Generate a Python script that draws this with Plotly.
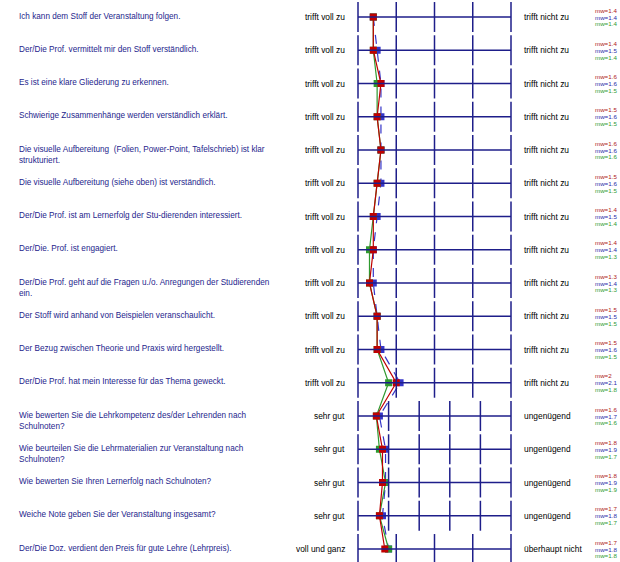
import plotly.graph_objects as go

questions = [
    "Ich kann dem Stoff der Veranstaltung folgen.",
    "Der/Die Prof. vermittelt mir den Stoff verständlich.",
    "Es ist eine klare Gliederung zu erkennen.",
    "Schwierige Zusammenhänge werden verständlich erklärt.",
    "Die visuelle Aufbereitung  (Folien, Power-Point, Tafelschrieb) ist klar<br>strukturiert.",
    "Die visuelle Aufbereitung (siehe oben) ist verständlich.",
    "Der/Die Prof. ist am Lernerfolg der Stu-dierenden interessiert.",
    "Der/Die. Prof. ist engagiert.",
    "Der/Die Prof. geht auf die Fragen u./o. Anregungen der Studierenden<br>ein.",
    "Der Stoff wird anhand von Beispielen veranschaulicht.",
    "Der Bezug zwischen Theorie und Praxis wird hergestellt.",
    "Der/Die Prof. hat mein Interesse für das Thema geweckt.",
    "Wie bewerten Sie die Lehrkompetenz des/der Lehrenden nach<br>Schulnoten?",
    "Wie beurteilen Sie die Lehrmaterialien zur Veranstaltung nach<br>Schulnoten?",
    "Wie bewerten Sie Ihren Lernerfolg nach Schulnoten?",
    "Weiche Note geben Sie der Veranstaltung insgesamt?",
    "Der/Die Doz. verdient den Preis für gute Lehre (Lehrpreis).",
]
left_labels = ["trifft voll zu"] * 12 + ["sehr gut"] * 4 + ["voll und ganz"]
right_labels = ["trifft nicht zu"] * 12 + ["ungenügend"] * 4 + ["überhaupt nicht"]
scale_points = [5] * 12 + [6] * 4 + [5]

mw_red = [1.4, 1.4, 1.6, 1.5, 1.6, 1.5, 1.4, 1.4, 1.3, 1.5, 1.5, 2.0, 1.6, 1.8, 1.8, 1.7, 1.7]
mw_blue = [1.4, 1.5, 1.6, 1.6, 1.6, 1.6, 1.5, 1.4, 1.4, 1.5, 1.6, 2.1, 1.7, 1.9, 1.9, 1.8, 1.8]
mw_green = [1.4, 1.4, 1.5, 1.5, 1.6, 1.5, 1.4, 1.3, 1.3, 1.5, 1.5, 1.8, 1.6, 1.7, 1.9, 1.7, 1.8]

W, H = 620, 562
GRID_L, GRID_R = 358, 511          # pixel span of the rating grid
ROW0, ROW_H = 17, 33.25            # first row centre / row pitch (px)
NAVY = "#1e1e8a"
FONT = "Liberation Sans, Arial, sans-serif"
RED, BLUE, GREEN = "#c00000", "#3535c8", "#2f9a2f"

n = len(questions)
rows = list(range(n))

def norm(v, k):
    return (v - 1) / (k - 1)

unit = GRID_R - GRID_L
x_range = [-GRID_L / unit, (W - GRID_L) / unit]
y_range = [(H - ROW0) / ROW_H, -ROW0 / ROW_H]

fig = go.Figure()

shapes = []
for i, k in enumerate(scale_points):
    shapes.append(dict(type="line", xref="x", yref="y", x0=0, x1=1, y0=i, y1=i,
                       line=dict(color=NAVY, width=1.5)))
    for j in range(k):
        xv = j / (k - 1)
        shapes.append(dict(type="line", xref="x", yref="y", x0=xv, x1=xv,
                           y0=i - 0.45, y1=i + 0.45,
                           line=dict(color=NAVY, width=1.5)))

series = [
    ("blue", mw_blue, BLUE, "dash"),
    ("green", mw_green, GREEN, "solid"),
    ("red", mw_red, RED, "solid"),
]
for name, vals, col, dash in series:
    xs = [norm(v, k) for v, k in zip(vals, scale_points)]
    fig.add_trace(go.Scatter(
        x=xs, y=rows, mode="lines+markers", name=name,
        line=dict(color=col, width=1.2, dash=dash),
        marker=dict(symbol="square", size=7, color=col),
        cliponaxis=False, showlegend=False, hoverinfo="skip"))

ann = []
for i in rows:
    ann.append(dict(x=17 / W, xref="paper", y=i - 0.22, yref="y",
                    text=questions[i], showarrow=False, xanchor="left", yanchor="top",
                    align="left", font=dict(family=FONT, size=8.2, color="#1e1e8c")))
    ann.append(dict(x=347 / W, xref="paper", y=i, yref="y",
                    text=left_labels[i], showarrow=False, xanchor="right", yanchor="middle",
                    font=dict(family=FONT, size=8.4, color="#000000")))
    ann.append(dict(x=522 / W, xref="paper", y=i, yref="y",
                    text=right_labels[i], showarrow=False, xanchor="left", yanchor="middle",
                    font=dict(family=FONT, size=8.4, color="#000000")))
    for off, vals, col in [(-0.21, mw_red, "#b01818"), (0.0, mw_blue, "#2a2aa8"), (0.21, mw_green, "#2f9a2f")]:
        ann.append(dict(x=593 / W, xref="paper", y=i + off, yref="y",
                        text=f"mw={vals[i]:g}", showarrow=False, xanchor="left", yanchor="middle",
                        font=dict(family=FONT, size=6.2, color=col)))

fig.update_layout(
    width=W, height=H, margin=dict(l=0, r=0, t=0, b=0),
    paper_bgcolor="white", plot_bgcolor="white",
    xaxis=dict(range=x_range, visible=False, fixedrange=True),
    yaxis=dict(range=y_range, visible=False, fixedrange=True),
    shapes=shapes, annotations=ann,
)

fig.write_html("out.html", config={"displayModeBar": False},
               post_script="document.body.style.margin='0';document.body.style.overflow='hidden';")
